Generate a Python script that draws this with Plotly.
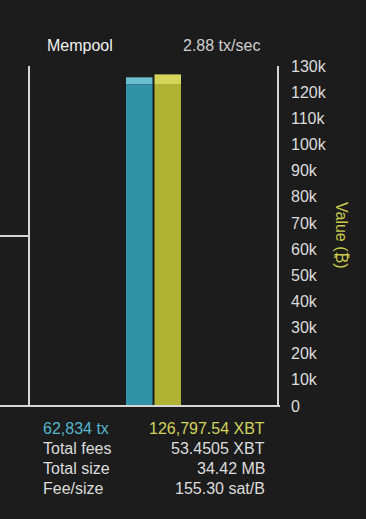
import plotly.graph_objects as go

# ---- data ----
category = ["Mempool"]
tx_count = [62834]          # transactions in mempool
tx_recent = [1300]          # lighter top segment (estimated)
value_btc = [126797.54]     # total value (XBT)
value_recent = [3700]       # lighter top segment (estimated)
tx_rate = "2.88 tx/sec"
stat_labels = ["Total fees", "Total size", "Fee/size"]
stat_values = ["53.4505 XBT", "34.42 MB", "155.30 sat/B"]
y2_ticks = [0, 10000, 20000, 30000, 40000, 50000, 60000, 70000, 80000,
            90000, 100000, 110000, 120000, 130000]

BG = "#1c1c1c"
TEAL_D = "#3193a7"
TEAL_L = "#6cbfd3"
YEL_D = "#b1b133"
YEL_L = "#d5d55b"
TXT = "#dcdcdc"
LINE = "#d6d6d6"
FONT = "Liberation Sans, Arial, sans-serif"

tx_base = [t - r for t, r in zip(tx_count, tx_recent)]
val_base = [v - r for v, r in zip(value_btc, value_recent)]

fig = go.Figure()
fig.add_trace(go.Bar(x=category, y=tx_base, marker_color=TEAL_D, marker_line_width=0,
                     offsetgroup="tx", alignmentgroup="a", yaxis="y", hoverinfo="skip"))
fig.add_trace(go.Bar(x=category, y=tx_recent, base=tx_base, marker_color=TEAL_L, marker_line_width=0,
                     offsetgroup="tx", alignmentgroup="a", yaxis="y", hoverinfo="skip"))
fig.add_trace(go.Bar(x=category, y=val_base, marker_color=YEL_D, marker_line_width=0,
                     offsetgroup="val", alignmentgroup="a", yaxis="y2", hoverinfo="skip"))
fig.add_trace(go.Bar(x=category, y=value_recent, base=val_base, marker_color=YEL_L, marker_line_width=0,
                     offsetgroup="val", alignmentgroup="a", yaxis="y2", hoverinfo="skip"))

W, H = 366, 519
L, R, T, B = 29, 88, 66, 113
PW, PH = W - L - R, H - T - B

def px(x):
    return (x - L) / PW

def py(y):
    return (H - B - y) / PH

shapes = [
    dict(type="line", xref="paper", yref="paper", x0=0, x1=0, y0=0, y1=1,
         line=dict(color=LINE, width=2)),
    dict(type="line", xref="paper", yref="paper", x0=1, x1=1, y0=0, y1=1,
         line=dict(color=LINE, width=2)),
    dict(type="line", xref="paper", yref="paper", x0=px(0), x1=px(280), y0=0, y1=0,
         line=dict(color=LINE, width=2)),
    dict(type="line", xref="paper", yref="paper", x0=px(0), x1=0, y0=0.5, y1=0.5,
         line=dict(color=LINE, width=2)),
]

ann = [
    dict(text="Mempool", x=px(80), y=py(45), font=dict(color="#f0f0f0", size=16)),
    dict(text=tx_rate, x=px(221), y=py(45), font=dict(color="#cfcfcf", size=16)),
    dict(text="Value (₿)", x=px(342), y=py(235), textangle=90,
         font=dict(color="#c9c94c", size=16)),
    dict(text=f"{tx_count[0]:,} tx", x=px(41), y=py(428), xanchor="left",
         font=dict(color="#55b6cd", size=16)),
    dict(text=f"{value_btc[0]:,.2f} XBT", x=px(267), y=py(428), xanchor="right",
         font=dict(color="#d2d25e", size=16)),
]
for i, (lab, val) in enumerate(zip(stat_labels, stat_values)):
    yy = py(448 + 20 * i)
    ann.append(dict(text=lab, x=px(41), y=yy, xanchor="left", font=dict(color=TXT, size=16)))
    ann.append(dict(text=val, x=px(267), y=yy, xanchor="right", font=dict(color=TXT, size=16)))
for a in ann:
    a.update(xref="paper", yref="paper", showarrow=False)
    a.setdefault("xanchor", "center")
    a.setdefault("yanchor", "middle")

fig.update_layout(
    width=W, height=H,
    margin=dict(l=L, r=R, t=T, b=B, pad=0),
    paper_bgcolor=BG, plot_bgcolor=BG,
    font=dict(family=FONT, color=TXT, size=16),
    showlegend=False,
    barmode="group", bargap=0.771, bargroupgap=0.07,
    xaxis=dict(visible=False, range=[-0.5, 0.5], fixedrange=True),
    yaxis=dict(visible=False, range=[0, 65000], fixedrange=True),
    yaxis2=dict(overlaying="y", side="right", range=[0, 130000], tickvals=y2_ticks,
                tickformat="~s", showgrid=False, zeroline=False, showline=False,
                ticks="", ticklabelstandoff=12, tickfont=dict(color=TXT, size=16),
                fixedrange=True),
    shapes=shapes, annotations=ann,
)

fig.write_html("out.html", config={"displayModeBar": False})
